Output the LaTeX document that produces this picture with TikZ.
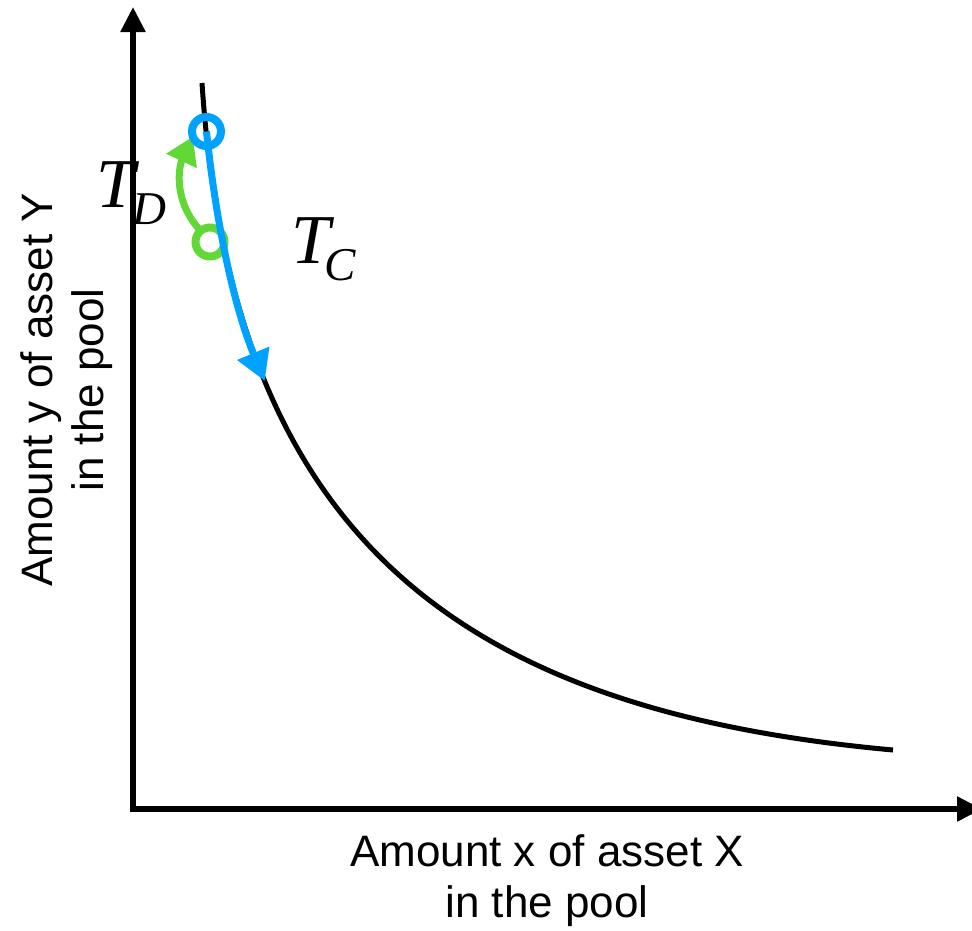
\documentclass[tikz,border=0pt]{standalone}
\usepackage{fontspec}
\setmainfont{Liberation Sans}
\newfontfamily\tfont{Liberation Serif}
\usetikzlibrary{arrows.meta}
\definecolor{kblue}{HTML}{00A2FF}
\definecolor{kgreen}{HTML}{61D836}
\pgfdeclarelayer{top}
\pgfsetlayers{main,top}
\newcommand{\tsub}[2]{{\tfont\itshape\fontsize{70}{80}\selectfont T\kern#1\raisebox{-17pt}{\fontsize{47}{50}\selectfont #2}}}
\begin{document}
\begin{tikzpicture}[x=1pt,y=-1pt,
  axisline/.style={line width=5.5pt,-{Triangle[length=25pt,width=24pt]}},
  curveline/.style={line width=5pt,black},
  ring/.style={circle,draw=#1,line width=8pt,minimum size=29pt,inner sep=0pt,outer sep=0pt,fill=none},
  bluearrow/.style={kblue,line width=7pt,-{Triangle[length=30pt,width=33pt]}},
  greenarrow/.style={kgreen,line width=7pt,-{Triangle[length=27pt,width=32pt]}},
  axislabel/.style={font=\fontsize{44}{51}\selectfont,align=center,inner sep=0pt},
  tlabel/.style={inner sep=0pt,anchor=base west}]
\useasboundingbox (0,0) rectangle (972,930);
% axes
\coordinate (Ox) at (130,809);
\coordinate (Oy) at (133,812);
\coordinate (ytip) at (133,7);
\coordinate (xtip) at (982,809);
\draw[axisline] (Ox) -- (xtip);
\draw[axisline] (Oy) -- (ytip);
% blue ring on top layer
\begin{pgfonlayer}{top}
\node[ring=kblue] (start) at (206.5,131.5) {};
\end{pgfonlayer}
% curve
\coordinate (ctop) at (202,83);
\coordinate (cend) at (893,750);
\draw[curveline] (ctop) .. controls (232,533) and (453,710) .. (cend);
% green ring and arrow
\node[ring=kgreen] (end) at (210,242) {};
\draw[greenarrow] (end.130) .. controls +(-28,-30) and +(-14,30) .. (start.200);
% blue arrow
\coordinate (tipC) at (264.7,381);
\draw[bluearrow] (start.center) .. controls (216.5,228.2) and (235.2,309.6) .. (tipC);
% labels
\node[tlabel] (td) at (96,207) {\tsub{-3pt}{D}};
\node[tlabel] (tc) at (291,263) {\tsub{-6pt}{C}};
\node[axislabel] (xlab) at (547,881) {Amount x of asset X\\in the pool};
\node[axislabel,rotate=90] (ylab) at (67,390) {Amount y of asset Y\\in the pool};
\end{tikzpicture}
\end{document}
